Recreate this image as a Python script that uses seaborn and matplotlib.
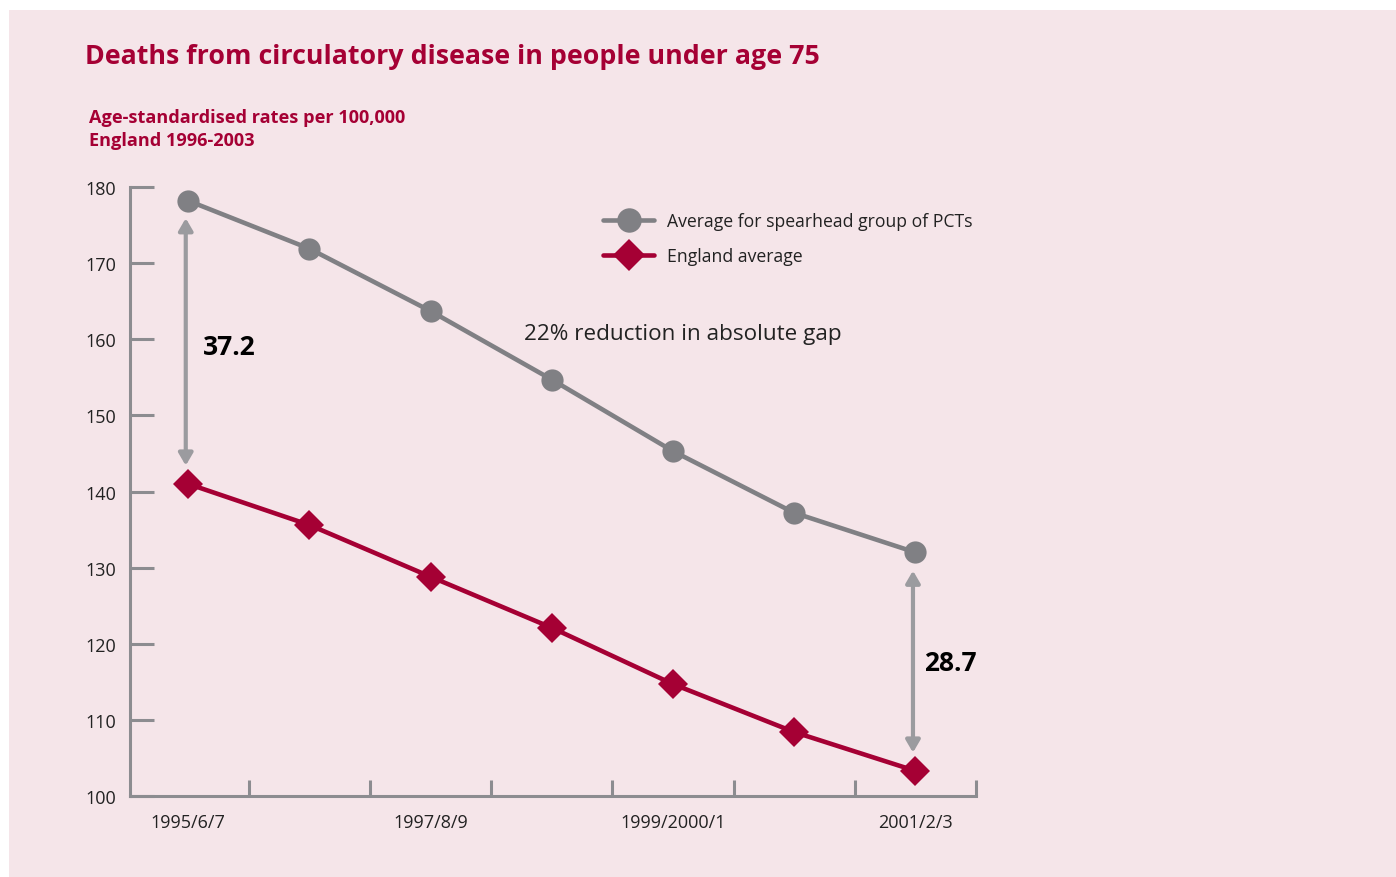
import matplotlib
matplotlib.use("Agg")
import matplotlib.pyplot as plt
import seaborn as sns
import pandas as pd

# Data
periods = ["1995/6/7", "1996/7/8", "1997/8/9", "1998/9/2000",
           "1999/2000/1", "2000/1/2", "2001/2/3"]
spearhead = [178.2, 171.9, 163.7, 154.7, 145.3, 137.2, 132.0]
england = [141.0, 135.6, 128.8, 122.1, 114.7, 108.4, 103.3]
shown_labels = ["1995/6/7", "1997/8/9", "1999/2000/1", "2001/2/3"]
series_names = ["Average for spearhead group of PCTs", "England average"]

BG = "#f5e5e9"
RED = "#a50034"
GREY = "#808084"
AXIS = "#8c8c90"
ARROW = "#9b9b9f"

sns.set_theme(style="white")
plt.rcParams["font.family"] = ["Open Sans", "DejaVu Sans"]

fig = plt.figure(figsize=(13.96, 8.78), dpi=100)
fig.patch.set_facecolor("white")
# pink panel
fig.patches.append(plt.Rectangle((9 / 1396, 0), 1 - 9 / 1396, 1 - 11 / 878,
                                 transform=fig.transFigure, facecolor=BG,
                                 edgecolor="none", zorder=-10))

ax = fig.add_axes([130 / 1396, 1 - 797 / 878, (976 - 130) / 1396, (797 - 188) / 878])
ax.set_facecolor("none")

df = pd.DataFrame({
    "x": list(range(len(periods))) * 2,
    "rate": spearhead + england,
    "series": [series_names[0]] * len(periods) + [series_names[1]] * len(periods),
})

sns.lineplot(data=df[df.series == series_names[0]], x="x", y="rate", ax=ax,
             color=GREY, linewidth=3.3, marker="o", markersize=16,
             markeredgewidth=0, label=series_names[0], clip_on=False, zorder=3)
sns.lineplot(data=df[df.series == series_names[1]], x="x", y="rate", ax=ax,
             color=RED, linewidth=3.3, marker="D", markersize=15,
             markeredgewidth=0, label=series_names[1], clip_on=False, zorder=3)

ax.set_xlim(-0.48, 6.5)
ax.set_ylim(100, 180)
ax.set_xlabel("")
ax.set_ylabel("")

# axes styling
for side in ["top", "right"]:
    ax.spines[side].set_visible(False)
for side in ["left", "bottom"]:
    ax.spines[side].set_color(AXIS)
    ax.spines[side].set_linewidth(2.2)

ax.set_yticks(range(100, 181, 10))
ax.tick_params(axis="y", direction="in", length=17, width=2.2, color=AXIS,
               labelsize=13, labelcolor="#222222", pad=10, left=True)
ax.set_xticks([i + 0.5 for i in range(7)])
ax.set_xticklabels([])
ax.tick_params(axis="x", which="major", direction="in", length=11.5, width=2.2,
               color=AXIS, bottom=True)
ax.set_xticks([periods.index(p) for p in shown_labels], minor=True)
ax.set_xticklabels(shown_labels, minor=True)
ax.tick_params(axis="x", which="minor", length=0, labelsize=13,
               labelcolor="#222222", pad=12)

# gap arrows
first_gap = spearhead[0] - england[0]
last_gap = spearhead[-1] - england[-1]
ax.annotate("", xy=(-0.02, spearhead[0] - 2.3), xytext=(-0.02, england[0] + 2.4),
            arrowprops=dict(arrowstyle="<|-|>,head_length=0.6,head_width=0.35",
                            color=ARROW, lw=3, shrinkA=0, shrinkB=0), zorder=2)
ax.annotate("", xy=(5.98, spearhead[-1] - 2.4), xytext=(5.98, england[-1] + 2.4),
            arrowprops=dict(arrowstyle="<|-|>,head_length=0.6,head_width=0.35",
                            color=ARROW, lw=3, shrinkA=0, shrinkB=0), zorder=2)
ax.text(0.12, 159.1, f"{first_gap:.1f}", fontsize=19, fontweight="bold",
        color="black", va="center", ha="left")
ax.text(6.07, 117.6, f"{last_gap:.1f}", fontsize=19, fontweight="bold",
        color="black", va="center", ha="left")

ax.text(2.77, 160.8, "22% reduction in absolute gap", fontsize=16.2,
        color="#222222", va="center", ha="left")

leg = ax.legend(loc="upper left", bbox_to_anchor=(466 / 846, 1 - 18 / 609),
                frameon=False, fontsize=12.7, handlelength=2.9, handletextpad=0.75,
                labelspacing=0.95, borderaxespad=0, markerscale=1.1)
for t in leg.get_texts():
    t.set_color("#222222")

fig.text(85 / 1396, 1 - 57 / 878, "Deaths from circulatory disease in people under age 75",
         fontsize=19.3, fontweight="bold", color=RED, va="center", ha="left")
fig.text(89 / 1396, 1 - 118 / 878, "Age-standardised rates per 100,000",
         fontsize=13.1, fontweight="bold", color=RED, va="center", ha="left")
fig.text(89 / 1396, 1 - 141 / 878, "England 1996-2003",
         fontsize=13.1, fontweight="bold", color=RED, va="center", ha="left")

fig.savefig("out.png", dpi=100, facecolor=fig.get_facecolor())
